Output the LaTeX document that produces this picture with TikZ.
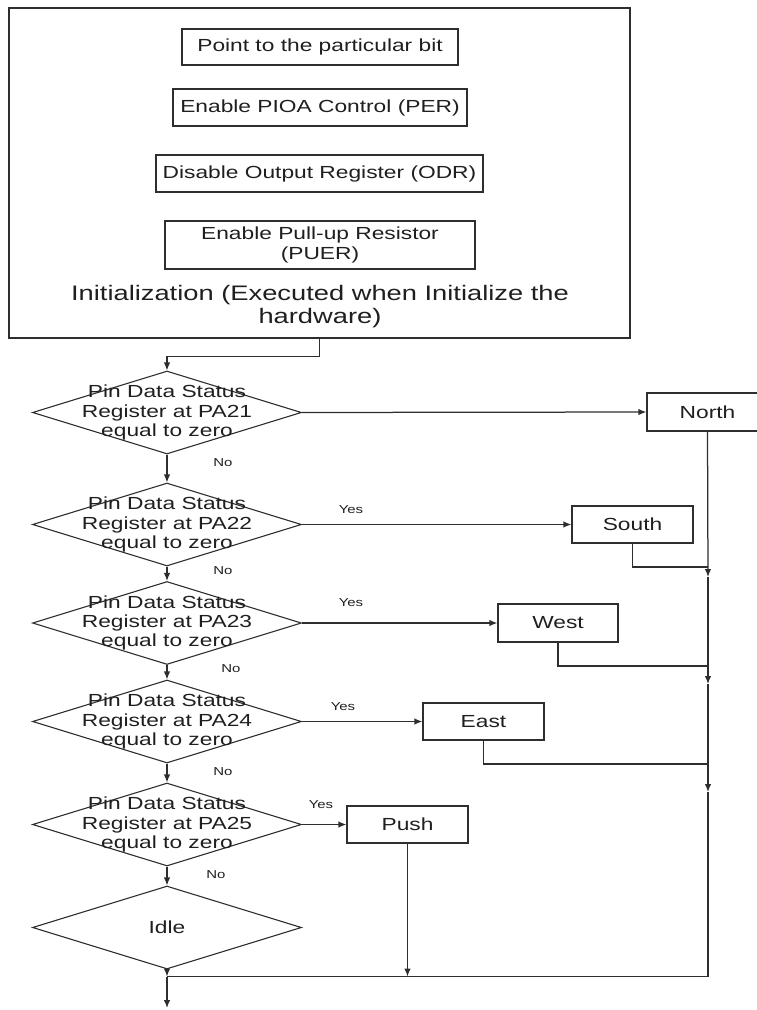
\documentclass[tikz,border=0pt]{standalone}
\usepackage{fontspec}
\setmainfont{Liberation Sans}[FakeStretch=1.3]
\usetikzlibrary{shapes.geometric,arrows.meta}
\definecolor{ink}{HTML}{1F1F1F}
\definecolor{wire}{HTML}{2E2E2E}
\begin{document}
\begin{tikzpicture}[x=1pt,y=-1pt,
  every node/.style={text=ink},
  line/.style={draw=wire,line width=1.25pt},
  arr/.style={line,-{Latex[length=8pt,width=6.5pt]}},
  procbox/.style={draw=wire,line width=1.25pt,rectangle,inner sep=0pt,
    align=center,font=\fontsize{17.5}{19.5}\selectfont},
  decision/.style={draw=wire,line width=1.1pt,diamond,inner sep=0pt,
    minimum width=269pt,minimum height=83pt},
  dtext/.style={align=center,inner sep=0pt,font=\fontsize{17.5}{19.3}\selectfont},
  tag/.style={inner sep=0pt,font=\fontsize{11.5}{12}\selectfont},
]
\useasboundingbox (0,0) rectangle (757,1010);

% initialization block
\node[draw=wire,line width=1.25pt,rectangle,inner sep=0pt,
      minimum width=621pt,minimum height=330pt] (init) at (319.5,173) {};
\node[procbox,minimum width=276pt,minimum height=36pt] (pbit) at (320,47)
  {Point to the particular bit};
\node[procbox,minimum width=294pt,minimum height=37pt] (per) at (320,107.5)
  {Enable PIOA Control (PER)};
\node[procbox,minimum width=327pt,minimum height=37pt] (odr) at (319.5,173.5)
  {Disable Output Register (ODR)};
\node[procbox,minimum width=310pt,minimum height=48pt] (puer) at (320,245)
  {Enable Pull-up Resistor\\(PUER)};
\node[align=center,inner sep=0pt,font=\fontsize{21}{23}\selectfont] (inittxt) at (320,306.5)
  {Initialization (Executed when Initialize the\\hardware)};

% decision chain
\node[decision] (d1) at (167,412.5) {};
\node[dtext] (d1t) at (d1.center) {Pin Data Status\\Register at PA21\\equal to zero};
\node[decision] (d2) at (167,524.5) {};
\node[dtext] (d2t) at (d2.center) {Pin Data Status\\Register at PA22\\equal to zero};
\node[decision] (d3) at (167,623) {};
\node[dtext] (d3t) at (d3.center) {Pin Data Status\\Register at PA23\\equal to zero};
\node[decision] (d4) at (167,721.5) {};
\node[dtext] (d4t) at (d4.center) {Pin Data Status\\Register at PA24\\equal to zero};
\node[decision] (d5) at (167,824.5) {};
\node[dtext] (d5t) at (d5.center) {Pin Data Status\\Register at PA25\\equal to zero};
\node[decision] (idle) at (167,927.5) {};
\node[dtext] (idlet) at (idle.center) {Idle};

% direction outputs
\node[procbox,minimum width=121pt,minimum height=38pt] (north) at (707.5,412) {North};
\node[procbox,minimum width=121pt,minimum height=37pt] (south) at (632.5,524.5) {South};
\node[procbox,minimum width=120pt,minimum height=38pt] (west) at (558,623) {West};
\node[procbox,minimum width=121pt,minimum height=37pt] (east) at (483.5,721.5) {East};
\node[procbox,minimum width=121pt,minimum height=37pt] (push) at (407.5,824.5) {Push};

% branch labels
\node[tag] (no1) at (223,463) {No};
\node[tag] (no2) at (223,571) {No};
\node[tag] (no3) at (231,669) {No};
\node[tag] (no4) at (223,772) {No};
\node[tag] (no5) at (216,875) {No};
\node[tag] (yes2) at (351,510) {Yes};
\node[tag] (yes3) at (351,603) {Yes};
\node[tag] (yes4) at (343,707) {Yes};
\node[tag] (yes5) at (321,805) {Yes};

% helper points on the return trunk
\coordinate (m1) at (708,567);
\coordinate (m2) at (708,666);
\coordinate (m3) at (708,764);
\coordinate (ta) at (708,577);
\coordinate (tb) at (708,684);
\coordinate (tc) at (708,792);
\coordinate (corner) at (708,976.5);
\coordinate (join) at (167,976.5);
\coordinate (out) at (167,1008);

% init to first test
\draw[arr] (init.south) -- ++(0,18) -| (d1.north);

% "No" path down the chain
\draw[arr] (d1.south) -- (d2.north);
\draw[arr] (d2.south) -- (d3.north);
\draw[arr] (d3.south) -- (d4.north);
\draw[arr] (d4.south) -- (d5.north);
\draw[arr] (d5.south) -- (idle.north);

% "Yes" branches
\draw[arr] (d1.east) -- (north.west);
\draw[arr] (d2.east) -- (south.west);
\draw[arr] (d3.east) -- (west.west);
\draw[arr] (d4.east) -- (east.west);
\draw[arr] (d5.east) -- (push.west);

% merging back
\draw[line] (south.south) |- (m1);
\draw[line] (west.south) |- (m2);
\draw[line] (east.south) |- (m3);
\draw[arr] (north.south) -- (ta);
\draw[arr] (ta) -- (tb);
\draw[arr] (tb) -- (tc);
\draw[line] (tc) -- (corner) -- (join);
\draw[arr] (push.south) -- (push.south |- join);
\draw[arr] (idle.south) -- (join);
\draw[arr] (join) -- (out);
\end{tikzpicture}
\end{document}
